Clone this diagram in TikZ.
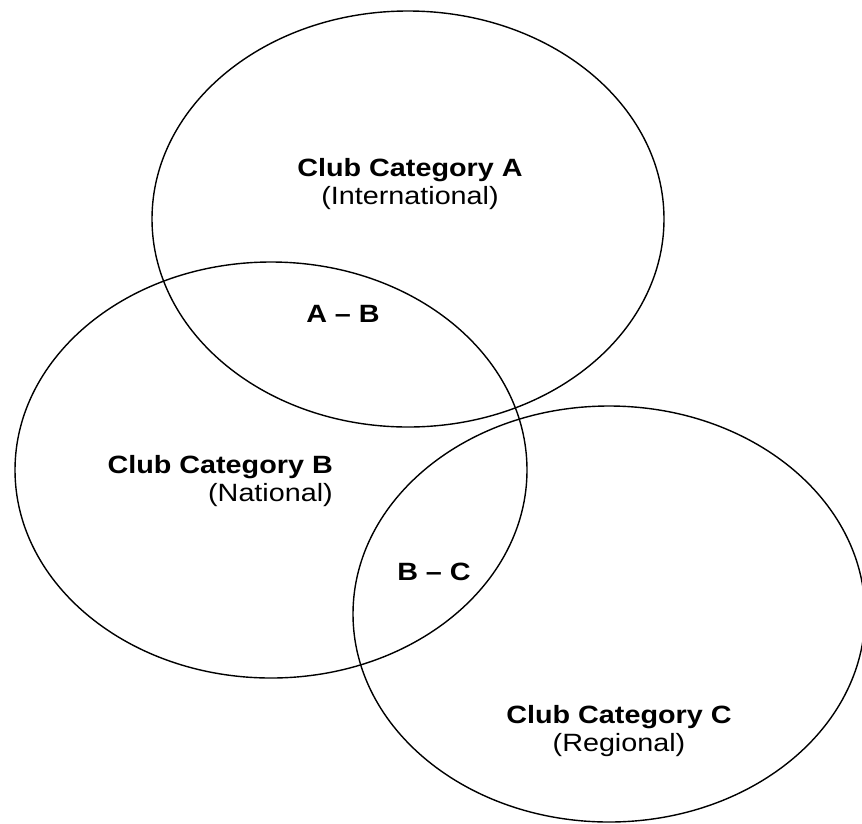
\documentclass[tikz,border=0pt]{standalone}
\usepackage{fontspec}
\setmainfont{Liberation Sans}[FakeStretch=1.15]
\usepackage{tikz}
\usetikzlibrary{shapes.geometric}

\begin{document}
\begin{tikzpicture}
[
    x = 1pt, y = -1pt,
    clubset/.style = {draw, ellipse, line width = 1.4pt, minimum width = 512pt, minimum height = 416pt, inner sep = 0pt},
    clubname/.style = {font = \fontsize{25}{28}\selectfont, inner sep = 0pt},
    overlap/.style = {font = \fontsize{25}{28}\selectfont\bfseries, inner sep = 0pt},
]
\useasboundingbox (0,0) rectangle (862,823);

% the three sets
\node[clubset] (setA) at (408,219) {};
\node[clubset] (setB) at (271,470) {};
\node[clubset] (setC) at (609,614) {};

% names
\node[clubname, align = center] (nameA) at (410,184) {\textbf{Club Category A}\\(International)};
\node[clubname, align = right, anchor = east] (nameB) at (333,481) {\textbf{Club Category B}\\(National)};
\node[clubname, align = center] (nameC) at (619,731) {\textbf{Club Category C}\\(Regional)};

% overlaps
\node[overlap] (AB) at (343,314) {A -- B};
\node[overlap] (BC) at (434,572) {B -- C};
\end{tikzpicture}
\end{document}
